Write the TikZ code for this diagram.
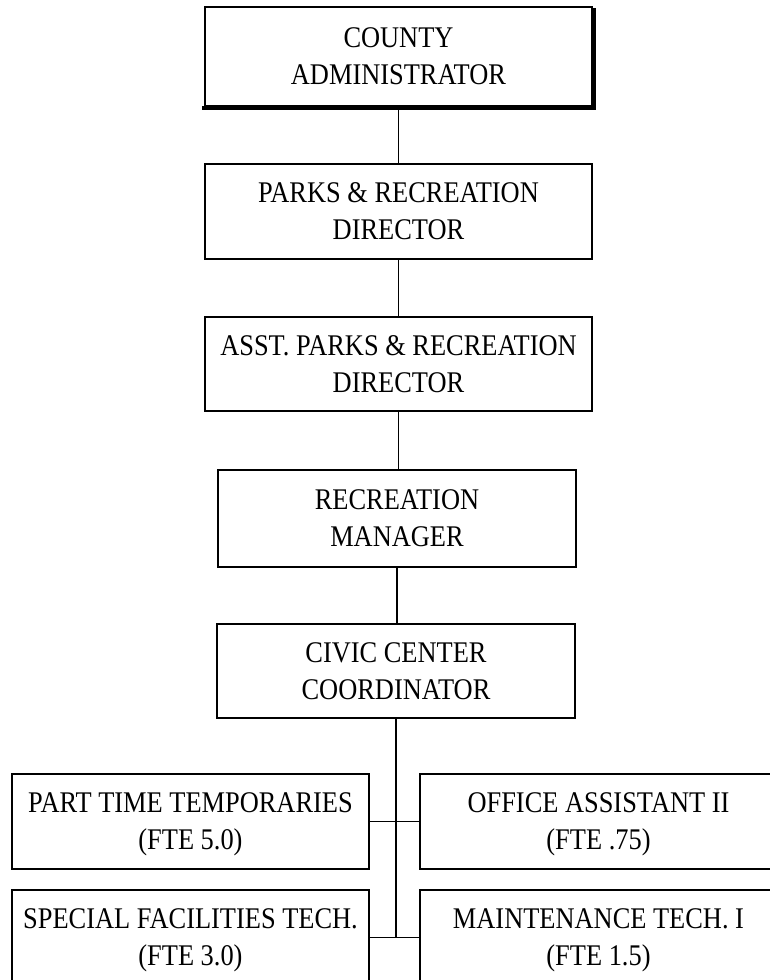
\documentclass[tikz,border=0pt]{standalone}
\usepackage{fontspec}
\setmainfont{Liberation Serif}[FakeStretch=0.88]
\begin{document}
\begin{tikzpicture}[x=1pt,y=-1pt,
  box/.style={draw=black,line width=1.9pt,rectangle,align=center,inner sep=0pt,
    font=\fontsize{30}{37}\selectfont,text depth=0pt},
  link/.style={draw=black,line width=1.8pt}]
\useasboundingbox (0,0) rectangle (770,980);
\clip (0,0) rectangle (770,980);
\node[box,minimum width=387pt,minimum height=99pt] (county) at (398.5,56.5) {COUNTY\\ADMINISTRATOR};
\draw[line width=4pt] ([xshift=-2pt,yshift=-1.2pt]county.south west) -- ([xshift=1.2pt,yshift=-1.2pt]county.south east) -- ([xshift=1.2pt,yshift=-2pt]county.north east);
\node[box,minimum width=387pt,minimum height=95pt] (parks) at (398.5,211.5) {PARKS \& RECREATION\\DIRECTOR};
\node[box,minimum width=387pt,minimum height=94pt] (asst) at (398.5,364) {ASST. PARKS \& RECREATION\\DIRECTOR};
\node[box,minimum width=358pt,minimum height=97pt] (recmgr) at (397,518.5) {RECREATION\\MANAGER};
\node[box,minimum width=358pt,minimum height=94pt] (civic) at (396,671) {CIVIC CENTER\\COORDINATOR};
\node[box,minimum width=357pt,minimum height=95pt] (part) at (190.5,821.5) {PART TIME TEMPORARIES\\(FTE 5.0)};
\node[box,minimum width=357pt,minimum height=95pt] (office) at (598.5,821.5) {OFFICE ASSISTANT II\\(FTE .75)};
\node[box,minimum width=357pt,minimum height=95pt] (special) at (190.5,937.5) {SPECIAL FACILITIES TECH.\\(FTE 3.0)};
\node[box,minimum width=357pt,minimum height=95pt] (maint) at (598.5,937.5) {MAINTENANCE TECH. I\\(FTE 1.5)};
\coordinate (jend) at (civic.south |- special.east);
\draw[link] ([yshift=-2pt]county.south) -- (parks.north);
\draw[link] (parks.south) -- (asst.north);
\draw[link] (asst.south) -- (recmgr.north -| asst.south);
\draw[link] (recmgr.south) -- (civic.north -| recmgr.south);
\draw[link] (civic.south) -- (jend);
\draw[link] (part.east) -- (office.west);
\draw[link] (special.east) -- (maint.west);
\end{tikzpicture}
\end{document}
